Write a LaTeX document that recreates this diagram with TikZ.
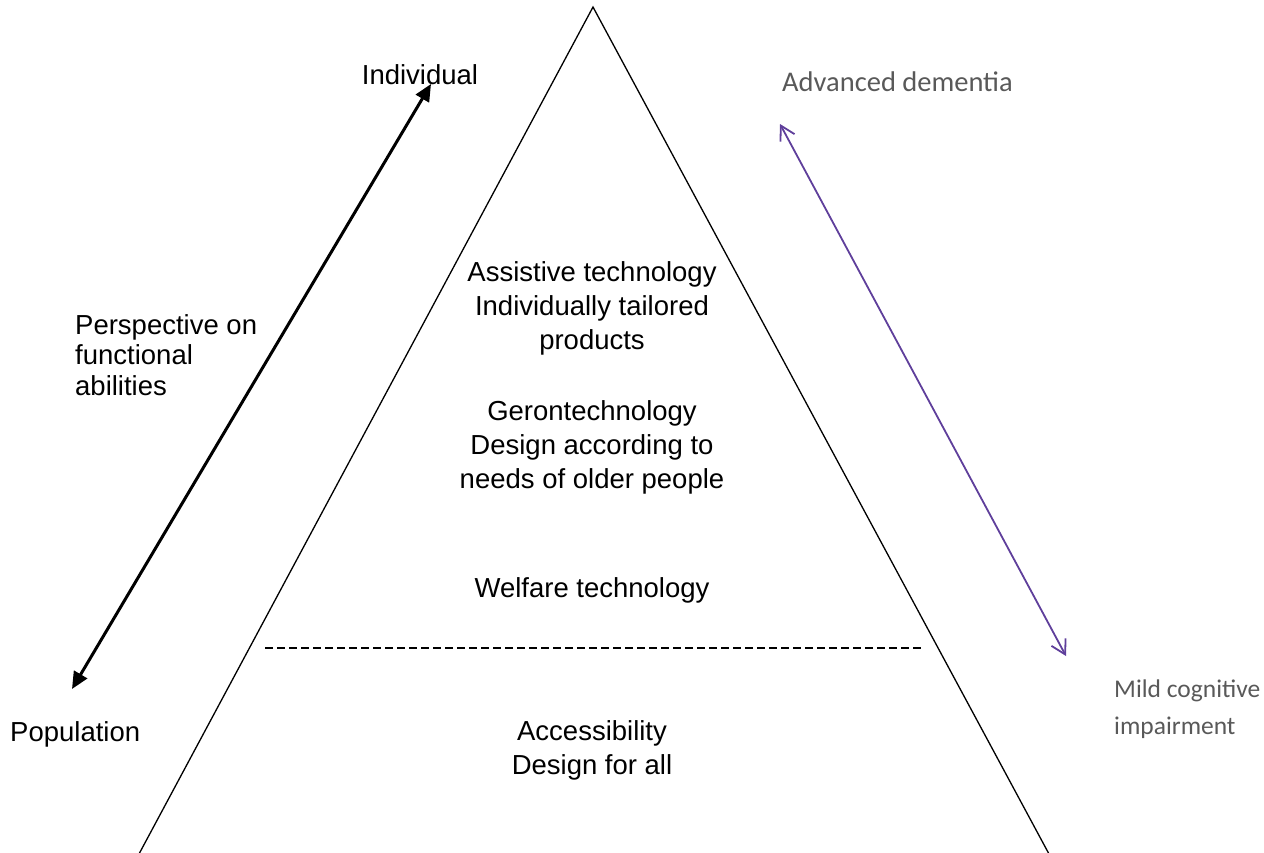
\documentclass[tikz,border=0pt]{standalone}
\usepackage{fontspec}
\setmainfont{Liberation Sans}
\newfontfamily\calib{Carlito}
\usetikzlibrary{arrows.meta}
\definecolor{greytxt}{HTML}{595959}
\definecolor{purp}{HTML}{5F3F9B}
\tikzset{
  arial/.style={font=\fontsize{27.5}{34}\selectfont, align=center, inner sep=0pt},
  ariall/.style={font=\fontsize{27.5}{30.5}\selectfont, align=left, inner sep=0pt, anchor=west},
  calibt/.style={font=\calib\fontsize{28.5}{37}\selectfont, text=greytxt, align=left, inner sep=0pt, anchor=west},
  calibs/.style={calibt, font=\calib\fontsize{25.5}{37}\selectfont},
  blackarrow/.style={line width=3pt, {Triangle[length=17pt,width=15pt]}-{Triangle[length=17pt,width=15pt]}},
  purparrow/.style={draw=purp, line width=1.8pt, {Straight Barb[length=14pt,width=16pt]}-{Straight Barb[length=14pt,width=16pt]}},
  tri/.style={line width=1.3pt, line join=miter},
  sep/.style={line width=2.8pt, dash pattern=on 8pt off 4pt}
}
\begin{document}
\begin{tikzpicture}[x=1pt,y=-1pt]
\useasboundingbox (0,0) rectangle (1264,852);
% triangle sides
\coordinate (apex) at (593,7);
\coordinate (botL) at (139,854);
\coordinate (botR) at (1049,854);
\draw[tri] (botL) -- (apex) -- (botR);
% dashed separator
\coordinate (dl) at (265,648);
\coordinate (dr) at (921,648);
\draw[sep] (dl) -- (dr);
% texts inside
\node[arial] (at) at (592,308) {Assistive technology\\Individually tailored\\products};
\node[arial] (ge) at (592,447) {Gerontechnology\\Design according to\\needs of older people};
\node[arial] (we) at (592,590) {Welfare technology};
\node[arial] (ac) at (592,750) {Accessibility\\Design for all};
% left side
\node[arial] (ind) at (420,75) {Individual};
\node[ariall] (pop) at (10,734) {Population};
\node[ariall] (per) at (75,355) {Perspective on\\functional\\abilities};
\coordinate (bt) at (431,84);
\coordinate (bb) at (72,689);
\draw[blackarrow] (bb) -- (bt);
% right side
\node[calibt] (adv) at (782,82) {Advanced dementia};
\node[calibs] (mci) at (1114,709) {Mild cognitive\\impairment};
\coordinate (pt) at (780,124);
\coordinate (pb) at (1066,656);
\draw[purparrow] (pt) -- (pb);
\end{tikzpicture}
\end{document}
